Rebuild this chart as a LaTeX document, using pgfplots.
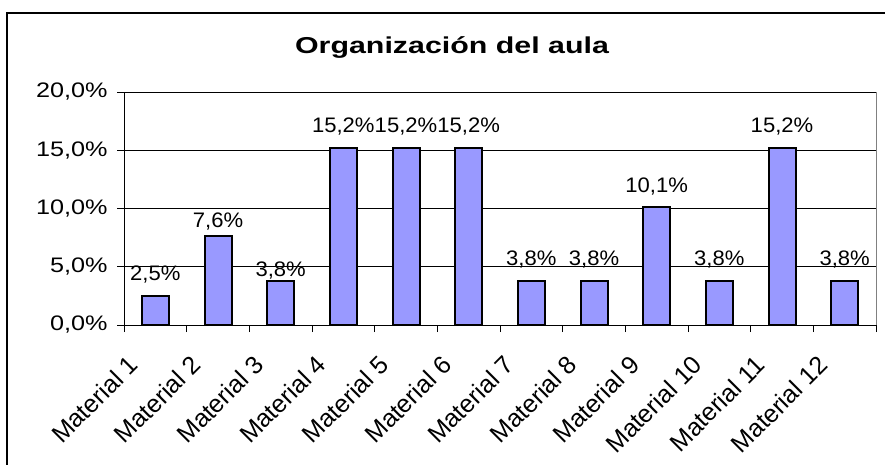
\documentclass[border=0pt]{standalone}
\usepackage{graphicx}
\usepackage{pgfplots}
\pgfplotsset{compat=1.18}
\usepackage{fontspec}
\setmainfont{Liberation Sans}
\definecolor{barblue}{RGB}{153,153,255}
\newcommand\hs[1]{\scalebox{1.2}[1]{#1}}
\newcommand\xl[1]{\scalebox{1.05}[1]{#1}}
\pgfplotstableread{
x y dy
1 2.5 15
2 7.6 9
3 3.8 4
4 15.2 15
5 15.2 15
6 15.2 15
7 3.8 15
8 3.8 15
9 10.1 15
10 3.8 15
11 15.2 15
12 3.8 15
}\datatable
\begin{document}
\begin{tikzpicture}[x=1pt,y=1pt]
\useasboundingbox (0,0) rectangle (885,464);
\draw[line width=1.2pt] (7,-10) -- (7,451) -- (895,451);
\node[font=\fontsize{23}{27}\selectfont\bfseries] at (452,416) {\scalebox{1.32}[1]{Organización del aula}};
\begin{axis}[
  at={(124pt,139pt)}, anchor=south west, scale only axis,
  width=752pt, height=233pt,
  xmin=0.5, xmax=12.5, ymin=0, ymax=20,
  axis lines*=left, axis line style={-, line width=1pt, black},
  /pgf/number format/assume math mode=true,
  tick align=outside, major tick length=7pt,
  tick style={black, line width=0.8pt},
  ytick={0,5,10,15,20},
  yticklabels={{\hs{0,0\%}},{\hs{5,0\%}},{\hs{10,0\%}},{\hs{15,0\%}},{\hs{20,0\%}}},
  yticklabel style={font=\fontsize{21}{25}\selectfont, xshift=-6pt},
  ymajorgrids, grid style={black, line width=0.6pt},
  xtick={0.5,1.5,...,12.5},
  xticklabels={Material 1,Material 2,Material 3,Material 4,Material 5,Material 6,Material 7,Material 8,Material 9,Material 10,Material 11,Material 12,{}},
  xticklabel style={font=\fontsize{25}{29}\selectfont, xshift=3pt, yshift=-22pt, rotate=45, anchor=north east, inner sep=0pt},
  clip=false,
]
\addplot[ybar, bar width=27pt, fill=barblue, draw=black, line width=2pt,
  point meta=explicit,
  visualization depends on={\thisrow{dy} \as \dy},
  nodes near coords={\xl{\pgfmathprintnumber[fixed,fixed zerofill,precision=1,use comma]{\pgfplotspointmeta}\%}},
  every node near coord/.append style={font=\fontsize{21}{25}\selectfont, anchor=base, inner sep=0pt, yshift=\dy pt, black},
] table[x=x, y=y, meta=y] {\datatable};
\draw[gray, line width=1pt] (rel axis cs:1,0) -- (rel axis cs:1,1);
\end{axis}
\end{tikzpicture}
\end{document}
